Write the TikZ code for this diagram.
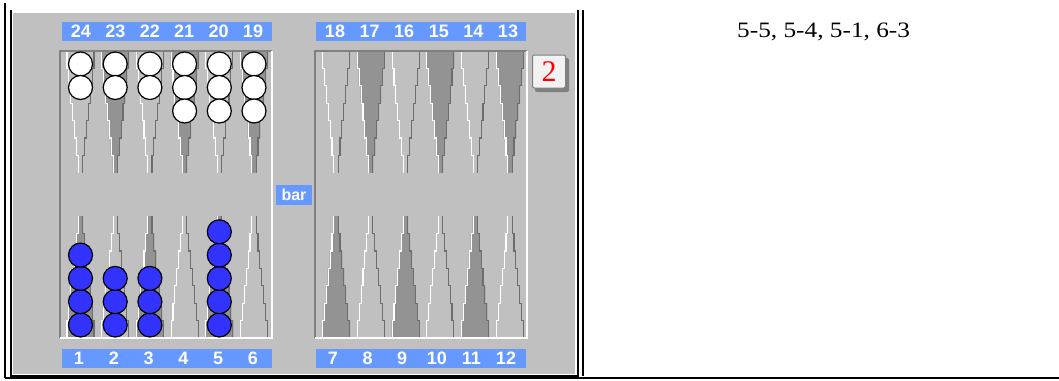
\documentclass[tikz,border=0pt]{standalone}
\usepackage{fontspec}
\setmainfont{Liberation Serif}
\newfontfamily\arialf{Liberation Sans}
\newfontfamily\movesfont[FakeStretch=1.15]{Liberation Serif}
\definecolor{board}{HTML}{C0C0C0}
\definecolor{darkpt}{HTML}{939393}
\definecolor{edgegray}{HTML}{808080}
\definecolor{strip}{HTML}{6699FF}
\definecolor{chkblue}{HTML}{3333FF}
\definecolor{cubebg}{HTML}{F2F2F2}
% one stepped point: centre x, base y, direction (1 down, -1 up), fill colour
\newcommand\bgpt[4]{%
\begin{scope}[shift={(#1,#2)},yscale=#3]
\fill[#4] (-14,0) -- (-14,17.4) -- (-12.1,17.4) -- (-12.1,34.8) -- (-10.2,34.8) -- (-10.2,52.2) -- (-8.3,52.2) -- (-8.3,69.6) -- (-6.4,69.6) -- (-6.4,87) -- (-4.5,87) -- (-4.5,104.4) -- (-2.6,104.4) -- (-2.6,121.8)
 -- (2.6,121.8) -- (2.6,104.4) -- (4.5,104.4) -- (4.5,87) -- (6.4,87) -- (6.4,69.6) -- (8.3,69.6) -- (8.3,52.2) -- (10.2,52.2) -- (10.2,34.8) -- (12.1,34.8) -- (12.1,17.4) -- (14,17.4) -- (14,0) -- cycle;
\draw[white,line width=1.1] (-13.5,0) -- (-13.5,17.4) -- (-11.6,17.4) -- (-11.6,34.8) -- (-9.7,34.8) -- (-9.7,52.2) -- (-7.8,52.2) -- (-7.8,69.6) -- (-5.9,69.6) -- (-5.9,87) -- (-4,87) -- (-4,104.4) -- (-2.1,104.4) -- (-2.1,121.8);
\draw[edgegray!85!black,line width=1.1] (2.1,121.8) -- (2.1,104.4) -- (4,104.4) -- (4,87) -- (5.9,87) -- (5.9,69.6) -- (7.8,69.6) -- (7.8,52.2) -- (9.7,52.2) -- (9.7,34.8) -- (11.6,34.8) -- (11.6,17.4) -- (13.5,17.4) -- (13.5,0);
\end{scope}}
\begin{document}
\begin{tikzpicture}[x=1pt,y=-1pt,
  wchk/.style={circle,draw=black,line width=1.2,fill=white,minimum size=24,inner sep=0},
  bchk/.style={wchk,fill=chkblue},
  stripbox/.style={fill=strip,inner sep=0,minimum height=19,minimum width=210},
  numlbl/.style={text=white,inner sep=0,font=\arialf\bfseries\fontsize{18}{18}\selectfont},
  tableline/.style={black,line width=1.3}]
\useasboundingbox (0,0) rectangle (1059,380);
\fill[white] (0,0) rectangle (1059,380);
% board
\fill[board] (13,13) rectangle (575,374);
% points
\foreach \k in {0,...,5}{
  \pgfmathsetmacro\xl{80.5+34.7*\k}
  \pgfmathsetmacro\xr{336+34.8*\k}
  \ifodd\k
    \bgpt{\xl}{51}{1}{darkpt}\bgpt{\xr}{51}{1}{darkpt}
    \bgpt{\xl}{338}{-1}{board}\bgpt{\xr}{338}{-1}{board}
  \else
    \bgpt{\xl}{51}{1}{board}\bgpt{\xr}{51}{1}{board}
    \bgpt{\xl}{338}{-1}{darkpt}\bgpt{\xr}{338}{-1}{darkpt}
  \fi
}
% frames
\draw[edgegray,line width=1.2] (60,338) -- (60,51) -- (272,51);
\draw[white,line width=1.2] (272,51) -- (272,338) -- (60,338);
\draw[edgegray,line width=1.2] (315,338) -- (315,51) -- (527,51);
\draw[white,line width=1.2] (527,51) -- (527,338) -- (315,338);
% number strips
\node[stripbox] (stl) at (167,31.5) {};
\node[stripbox] (str) at (421,31.5) {};
\node[stripbox] (sbl) at (167,358.5) {};
\node[stripbox] (sbr) at (421,358.5) {};
\foreach \n [count=\i from 0] in {24,23,22,21,20,19}
  \node[numlbl] (n\n) at ({81+34.4*\i},31.5) {\n};
\foreach \n [count=\i from 0] in {18,17,16,15,14,13}
  \node[numlbl] (n\n) at ({335+34.6*\i},31.5) {\n};
\foreach \n [count=\i from 0] in {1,2,3,4,5,6}
  \node[numlbl] (n\n) at ({79+34.8*\i},358.5) {\n};
\foreach \n [count=\i from 0] in {7,8,9,10,11,12}
  \node[numlbl] (n\n) at ({333+34.6*\i},358.5) {\n};
% checkers
\foreach \k/\n in {0/2,1/2,2/2,3/3,4/3,5/3}
  \foreach \j in {1,...,\n}
    \node[wchk] (w\k-\j) at ({80.5+34.7*\k},{64+23.5*(\j-1)}) {};
\foreach \k/\n in {0/4,1/3,2/3,4/5}
  \foreach \j in {1,...,\n}
    \node[bchk] (b\k-\j) at ({80.5+34.7*\k},{325-23.3*(\j-1)}) {};
% bar label
\node[fill=strip,text=white,inner sep=0,minimum width=36,minimum height=20,
  font=\arialf\bfseries\fontsize{16}{16}\selectfont] (bar) at (294,195) {bar};
% cube
\fill[edgegray,rounded corners=2] (535,58) rectangle (569,92);
\node[draw=edgegray,fill=cubebg,rounded corners=2,minimum size=33,inner sep=0,line width=1,
  text=red,font=\fontsize{30}{30}\selectfont] (cube) at (549,71.5) {2};
% table lines
\draw[tableline] (5,3) -- (5,378);
\draw[tableline] (11,10) -- (11,376) -- (578,376) -- (578,10);
\draw[tableline] (583,10) -- (583,376);
\draw[tableline] (5,378) -- (1059,378);
% text cell
\node[anchor=base west,inner sep=0,font=\movesfont\fontsize{22}{22}\selectfont] (moves) at (737,37.5) {5-5, 5-4, 5-1, 6-3};
\end{tikzpicture}
\end{document}
